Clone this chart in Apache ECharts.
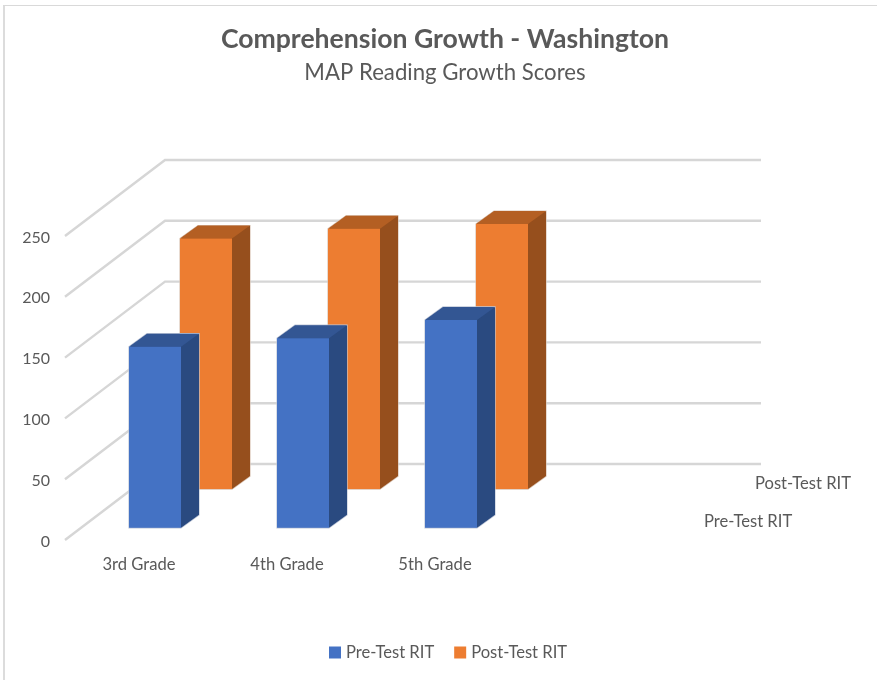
<!DOCTYPE html>
<html><head><meta charset="utf-8">
<style>html,body{margin:0;padding:0;background:#fff}#c{width:877px;height:680px}</style>
<script src="https://cdn.jsdelivr.net/npm/echarts@6/dist/echarts.min.js"></script>
</head><body><div id="c"></div>
<script>
const categories = ["3rd Grade", "4th Grade", "5th Grade", ""];
const preTest = [149, 156, 171];
const postTest = [206, 214, 218];
const yTicks = [0, 50, 100, 150, 200, 250];
const FONT = 'Lato, "Open Sans", sans-serif';
const DEPTH_X = 100, DEPTH_Y = 76, BAR_W = 52, BAR_DX = 18, BAR_DY = 13, WALL_EXTRA = 4;
const chart = echarts.init(document.getElementById('c'), null, {renderer: 'canvas'});

function wallItem(params, api) {
  const v = api.value(0);
  const p = api.coord([0, v]);
  const left = p[0] - api.size([1, 0])[0] / 2;
  const right = api.coord([3, v])[0] + api.size([1, 0])[0] / 2 + WALL_EXTRA;
  const y = p[1];
  return {type: 'polyline', silent: true,
    shape: {points: [[left, y], [left + DEPTH_X, y - DEPTH_Y], [right + DEPTH_X, y - DEPTH_Y]]},
    style: {fill: null, stroke: '#d6d6d6', lineWidth: 2.4}};
}
function barRender(depthFrac, front, side, top, edge) {
  return function (params, api) {
    const c = api.coord([api.value(0), api.value(1)]);
    const base = api.coord([api.value(0), 0]);
    const ox = DEPTH_X * depthFrac, oy = DEPTH_Y * depthFrac;
    const x0 = c[0] + ox - BAR_W / 2, x1 = x0 + BAR_W;
    const yT = c[1] - oy, yB = base[1] - oy;
    const dx = BAR_DX, dy = BAR_DY;
    return {type: 'group', children: [
      {type: 'polygon', shape: {points: [[x0, yT], [x0 + dx, yT - dy], [x1 + dx, yT - dy], [x1 + dx, yB - dy], [x1, yB], [x0, yB]]},
       style: {fill: side, stroke: edge, lineWidth: 1.2}},
      {type: 'polygon', shape: {points: [[x1, yT], [x1 + dx, yT - dy], [x1 + dx, yB - dy], [x1, yB]]},
       style: {fill: side}},
      {type: 'polygon', shape: {points: [[x0, yT], [x0 + dx, yT - dy], [x1 + dx, yT - dy], [x1, yT]]},
       style: {fill: top}},
      {type: 'rect', shape: {x: x0, y: yT, width: BAR_W, height: yB - yT},
       style: {fill: front}}
    ]};
  };
}
function depthLabel(depthFrac, name, offX, offY) {
  return function (params, api) {
    const p = api.coord([3, 0]);
    const right = p[0] + api.size([1, 0])[0] / 2;
    return {type: 'text', silent: true,
      style: {x: right + DEPTH_X * depthFrac + offX, y: p[1] - DEPTH_Y * depthFrac + offY,
        text: name, fill: '#595959', font: '16.6px ' + FONT, textAlign: 'left', textVerticalAlign: 'middle'}};
  };
}
const option = {
  backgroundColor: '#fff',
  animation: false,
  title: [
    {text: 'Comprehension Growth - Washington', left: 440, top: 21, textAlign: 'center',
     textStyle: {fontFamily: FONT, fontSize: 26.6, fontWeight: 'bold', color: '#595959'}},
    {text: 'MAP Reading Growth Scores', left: 440, top: 57, textAlign: 'center',
     textStyle: {fontFamily: FONT, fontSize: 22.2, fontWeight: 'normal', color: '#595959'}}
  ],
  grid: {left: 65, top: 236, width: 592, height: 304},
  legend: {bottom: 14, left: 324, itemWidth: 12, itemHeight: 12, itemGap: 20, icon: 'rect',
    data: ['Pre-Test RIT', 'Post-Test RIT'],
    textStyle: {fontFamily: FONT, fontSize: 16.6, color: '#595959'}},
  xAxis: {type: 'category', data: categories, boundaryGap: true,
    axisLine: {show: false}, axisTick: {show: false}, splitLine: {show: false},
    axisLabel: {fontFamily: FONT, fontSize: 16.6, color: '#595959', margin: 16, interval: 0}},
  yAxis: {type: 'value', min: 0, max: 250, interval: 50,
    axisLine: {show: false}, axisTick: {show: false}, splitLine: {show: false},
    axisLabel: {margin: 15, formatter: '{a|{value}}',
      rich: {a: {fontFamily: FONT, fontSize: 16, color: '#595959', padding: [3, 0, 0, 0]}}}},
  series: [
    {type: 'custom', name: 'walls', coordinateSystem: 'cartesian2d', z: 1, silent: true,
     data: yTicks.map(v => [v]), encode: {y: 0}, renderItem: wallItem},
    {type: 'custom', name: 'Post-Test RIT', coordinateSystem: 'cartesian2d', z: 2,
     itemStyle: {color: '#ed7d31'},
     data: postTest.map((v, i) => [i, v]), encode: {x: 0, y: 1},
     renderItem: barRender(0.67, '#ed7d31', '#964f1d', '#b45f23', '#d9c4b4')},
    {type: 'custom', name: 'Pre-Test RIT', coordinateSystem: 'cartesian2d', z: 3,
     itemStyle: {color: '#4472c4'},
     data: preTest.map((v, i) => [i, v]), encode: {x: 0, y: 1},
     renderItem: barRender(0.16, '#4472c4', '#2a4a80', '#335693', '#c0c8d8')},
    {type: 'custom', name: 'depth-post', z: 4, silent: true, data: [[0]], encode: {y: 0},
     renderItem: depthLabel(1, 'Post-Test RIT', -2, 20)},
    {type: 'custom', name: 'depth-pre', z: 4, silent: true, data: [[0]], encode: {y: 0},
     renderItem: depthLabel(0, 'Pre-Test RIT', 47, -18)}
  ],
  graphic: [
    {type: 'rect', z: -1, silent: true, shape: {x: 3, y: 5, width: 2, height: 675}, style: {fill: '#dcdcdc'}},
    {type: 'rect', z: -1, silent: true, shape: {x: 3, y: 5, width: 874, height: 1}, style: {fill: '#d9d9d9'}}
  ]
};
chart.setOption(option);
</script></body></html>
